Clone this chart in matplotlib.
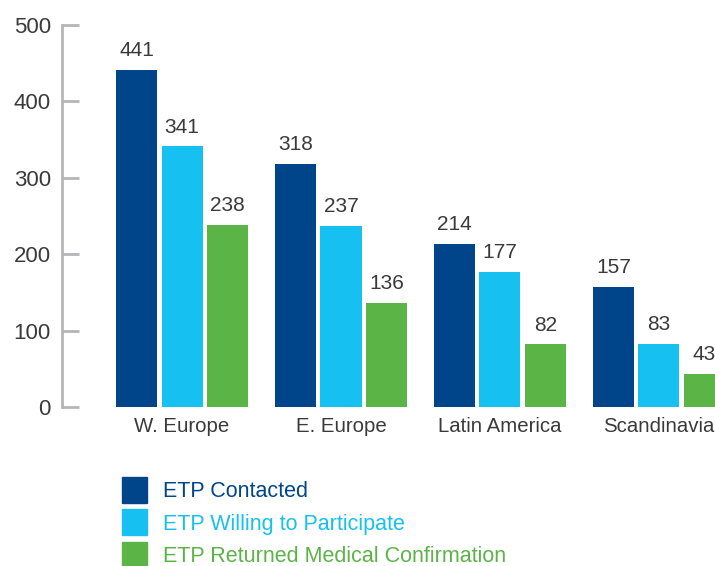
import numpy as np
from matplotlib import pyplot as plt
from matplotlib.patches import Patch


regions = ["W. Europe", "E. Europe", "Latin America", "Scandinavia"]
contacted = [441, 318, 214, 157]
willing = [341, 237, 177, 83]
returned = [238, 136, 82, 43]

series_names = ["ETP Contacted", "ETP Willing to Participate",
                "ETP Returned Medical Confirmation"]
colors = ["#00448a", "#16c1f1", "#5bb446"]

if __name__ == "__main__":

    plt.rcParams["font.family"] = ["Liberation Sans", "DejaVu Sans"]

    fig = plt.figure(figsize=(7.15, 5.66), dpi=100)
    # axes runs a bit past the right edge, like the original which is clipped
    ax = fig.add_axes([62 / 715, 1 - 407 / 566, 668 / 715, 382 / 566])

    x = np.arange(len(regions))
    width = 0.258
    step = 0.286
    text_col = "#3a3a3a"

    for i, (vals, c) in enumerate(zip([contacted, willing, returned], colors)):
        bars = ax.bar(x + (i - 1) * step, vals, width=width, color=c)
        for b, v in zip(bars, vals):
            ax.annotate(str(v), (b.get_x() + b.get_width() / 2, v),
                        xytext=(0, 7), textcoords="offset points",
                        ha="center", va="bottom", fontsize=15, color=text_col)

    ax.set_xlim(-0.755, 3.447)
    ax.set_ylim(0, 500)
    ax.set_yticks(range(0, 501, 100))
    ax.set_xticks(x)
    ax.set_xticklabels(regions)

    for s in ["top", "right", "bottom"]:
        ax.spines[s].set_visible(False)
    ax.spines["left"].set_color("#b5b5b8")
    ax.spines["left"].set_linewidth(2)

    ax.tick_params(axis="y", direction="in", length=12, width=2,
                   color="#b5b5b8", labelsize=16, labelcolor=text_col, pad=8)
    ax.tick_params(axis="x", length=0, labelsize=14.7, labelcolor=text_col, pad=7)

    handles = [Patch(color=c) for c in colors]
    leg = fig.legend(handles, series_names, loc="upper left",
                     bbox_to_anchor=(122 / 715, 1 - 477 / 566),
                     frameon=False, fontsize=15.5, borderpad=0, borderaxespad=0,
                     handlelength=1.16, handleheight=1.48, handletextpad=0.75,
                     labelspacing=0.3)
    for t, c in zip(leg.get_texts(), colors):
        t.set_color(c)

    plt.savefig("out.png", dpi=100)
